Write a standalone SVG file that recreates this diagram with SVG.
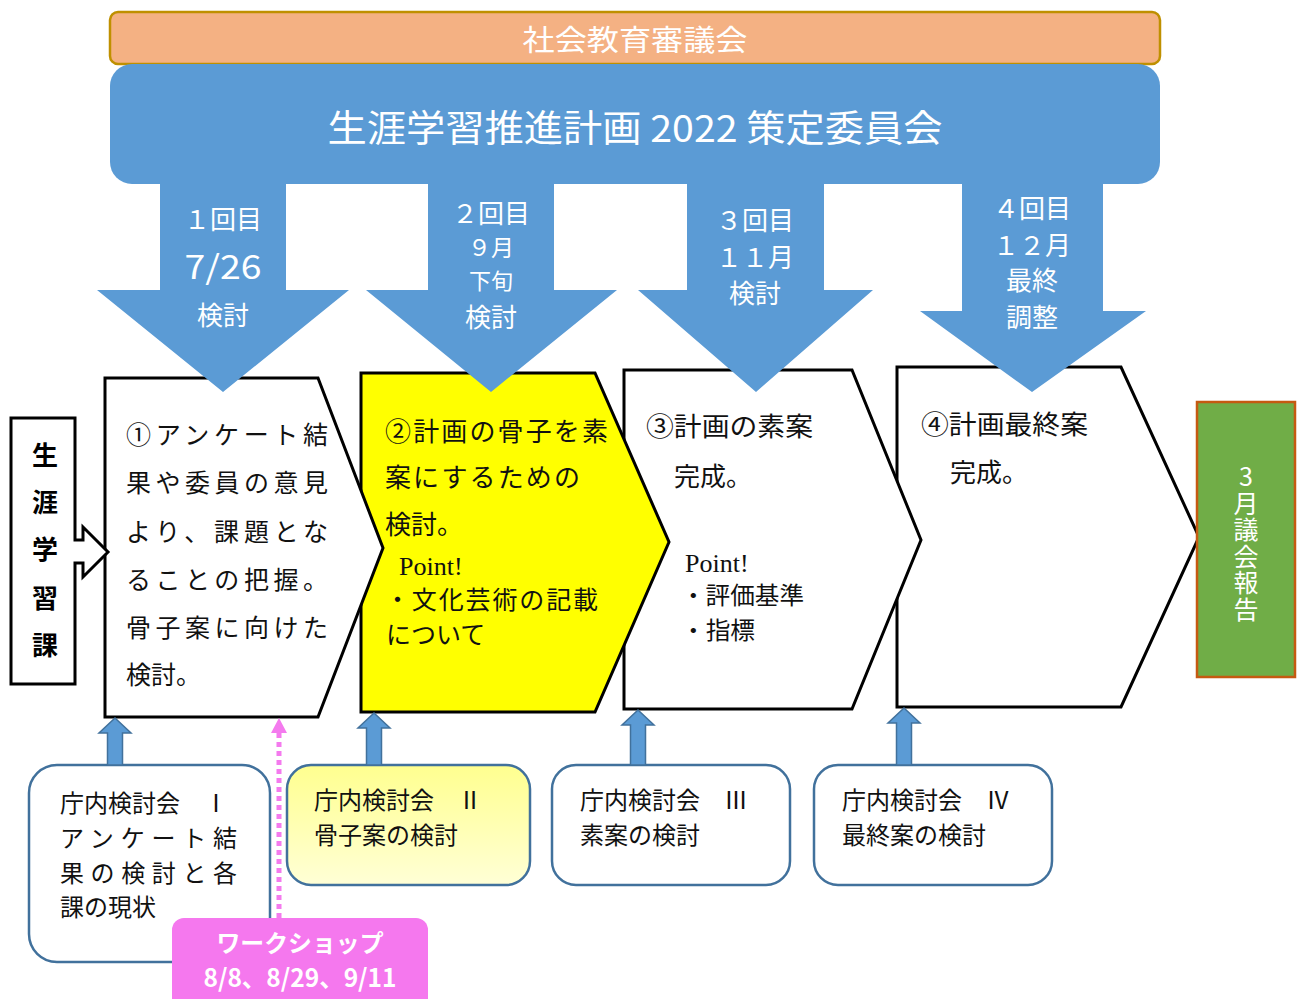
<svg xmlns="http://www.w3.org/2000/svg" width="1300" height="999" viewBox="0 0 1300 999">
<defs>
<style>
.jp{font-family:"Noto Sans CJK JP","Noto Sans",sans-serif}
.mj{font-family:"Liberation Serif","Noto Sans CJK JP",serif;fill:#111}
.pt{font-family:"Liberation Serif",serif;fill:#111;font-size:26px}
.wt{fill:#fff;font-family:"Noto Sans CJK JP","Noto Sans",sans-serif}
.pent{stroke:#000;stroke-width:3;stroke-linejoin:miter}
.sub{stroke:#41719C;stroke-width:2.5}
.sbt{font-family:"Noto Sans CJK JP","Noto Sans",sans-serif;fill:#111;font-size:24px}
.big{fill:#5B9BD5}
.up{fill:#5B9BD5;stroke:#41719C;stroke-width:1.5}
</style>
<linearGradient id="yg" x1="0" y1="0" x2="0" y2="1">
<stop offset="0" stop-color="#FFFF8F"/>
<stop offset="1" stop-color="#FFFFD6"/>
</linearGradient>
</defs>
<rect width="1300" height="999" fill="#fff"/>

<g id="shakai">
<rect x="110" y="12" width="1050" height="52" rx="8" fill="#F4B183" stroke="#BF9000" stroke-width="2.5"/>
<text class="wt" x="635" y="51" font-size="29" text-anchor="middle" textLength="225" lengthAdjust="spacingAndGlyphs">社会教育審議会</text>
</g>

<g id="iinkai">
<rect x="110" y="64" width="1050" height="120" rx="22" fill="#5B9BD5"/>
<text class="wt" x="635" y="142" font-size="37" text-anchor="middle" textLength="615" lengthAdjust="spacingAndGlyphs">生涯学習推進計画 2022 策定委員会</text>
</g>

<g id="step4">
<path class="pent" d="M897,367 L1121,367 L1199,537 L1121,707 L897,707 Z" fill="#fff"/>
<text class="mj" x="921" y="434" font-size="26" textLength="167" lengthAdjust="spacingAndGlyphs">④計画最終案</text>
<text class="mj" x="950" y="482" font-size="26">完成。</text>
</g>

<g id="step3">
<path class="pent" d="M624,370 L852,370 L921,540 L852,709 L624,709 Z" fill="#fff"/>
<text class="mj" x="646" y="436" font-size="26" textLength="167" lengthAdjust="spacingAndGlyphs">③計画の素案</text>
<text class="mj" x="674" y="486" font-size="26">完成。</text>
<text class="pt" x="685" y="572">Point!</text>
<text class="mj" x="681" y="604" font-size="24" textLength="123" lengthAdjust="spacingAndGlyphs">・評価基準</text>
<text class="mj" x="681" y="639" font-size="24" textLength="74" lengthAdjust="spacingAndGlyphs">・指標</text>
</g>

<g id="step2">
<path class="pent" d="M361,373 L595,373 L669,542 L595,712 L361,712 Z" fill="#FFFF00"/>
<text class="mj" x="385" y="441" font-size="26" textLength="223" lengthAdjust="spacing">②計画の骨子を素</text>
<text class="mj" x="385" y="487" font-size="26" textLength="195" lengthAdjust="spacing">案にするための</text>
<text class="mj" x="385" y="534" font-size="26">検討。</text>
<text class="pt" x="399" y="575">Point!</text>
<text class="mj" x="385" y="609" font-size="25" textLength="213" lengthAdjust="spacing">・文化芸術の記載</text>
<text class="mj" x="386" y="644" font-size="25">について</text>
</g>

<g id="step1">
<path class="pent" d="M105,378 L318,378 L383,548 L318,717 L105,717 Z" fill="#fff"/>
<text class="mj" x="126" y="444" font-size="25" textLength="202" lengthAdjust="spacing">①アンケート結</text>
<text class="mj" x="126" y="492" font-size="25" textLength="202" lengthAdjust="spacing">果や委員の意見</text>
<text class="mj" x="126" y="541" font-size="25" textLength="202" lengthAdjust="spacing">より、課題とな</text>
<text class="mj" x="126" y="589" font-size="25" textLength="202" lengthAdjust="spacing">ることの把握。</text>
<text class="mj" x="126" y="637" font-size="25" textLength="202" lengthAdjust="spacing">骨子案に向けた</text>
<text class="mj" x="126" y="684" font-size="25">検討。</text>
</g>

<g id="shogai">
<path d="M11,418 L75,418 L75,540 L83,540 L83,527 L108,552 L83,577 L83,563 L75,563 L75,684 L11,684 Z" fill="#fff" stroke="#000" stroke-width="3"/>
<g class="jp" font-size="26" font-weight="bold" text-anchor="middle" fill="#000">
<text x="45" y="465">生</text>
<text x="45" y="512">涯</text>
<text x="45" y="559">学</text>
<text x="45" y="608">習</text>
<text x="45" y="655">課</text>
</g>
</g>

<g id="gikai">
<rect x="1197" y="402" width="98" height="275" fill="#70AD47" stroke="#C55A11" stroke-width="2.5"/>
<text class="wt" x="1246" y="464" font-size="25" writing-mode="vertical-rl" letter-spacing="1.5" style="text-orientation:upright">3月議会報告</text>
</g>

<g id="chonai1">
<rect class="sub" x="29" y="765" width="241" height="197" rx="28" fill="#fff"/>
<text class="sbt" x="60" y="812">庁内検討会　Ⅰ</text>
<text class="sbt" x="60" y="847" textLength="177" lengthAdjust="spacing">アンケート結</text>
<text class="sbt" x="60" y="882" textLength="177" lengthAdjust="spacing">果の検討と各</text>
<text class="sbt" x="60" y="916">課の現状</text>
</g>

<g id="chonai2">
<rect class="sub" x="287" y="765" width="243" height="120" rx="24" fill="url(#yg)"/>
<text class="sbt" x="314" y="809">庁内検討会　Ⅱ</text>
<text class="sbt" x="314" y="844">骨子案の検討</text>
</g>

<g id="chonai3">
<rect class="sub" x="552" y="765" width="238" height="120" rx="24" fill="#fff"/>
<text class="sbt" x="580" y="809">庁内検討会　Ⅲ</text>
<text class="sbt" x="580" y="844">素案の検討</text>
</g>

<g id="chonai4">
<rect class="sub" x="814" y="765" width="238" height="120" rx="24" fill="#fff"/>
<text class="sbt" x="842" y="809">庁内検討会　Ⅳ</text>
<text class="sbt" x="842" y="844">最終案の検討</text>
</g>

<g id="connectors">
<path class="big" d="M160,180 L286,180 L286,290 L349,290 L223,392 L97,290 L160,290 Z"/>
<path class="big" d="M428,180 L554,180 L554,290 L617,290 L491,392 L366,290 L428,290 Z"/>
<path class="big" d="M687,180 L824,180 L824,290 L873,290 L756,392 L638,290 L687,290 Z"/>
<path class="big" d="M962,180 L1103,180 L1103,311 L1146,311 L1032,392 L920,311 L962,311 Z"/>
<g class="wt" text-anchor="middle">
<text x="223" y="229" font-size="26">１回目</text>
<text x="223" y="279" font-size="33" textLength="77" lengthAdjust="spacingAndGlyphs">7/26</text>
<text x="223" y="325" font-size="26">検討</text>
<text x="491" y="223" font-size="26">２回目</text>
<text x="491" y="256" font-size="23">９月</text>
<text x="491" y="289" font-size="22">下旬</text>
<text x="491" y="327" font-size="26">検討</text>
<text x="755" y="230" font-size="26">３回目</text>
<text x="755" y="267" font-size="26">１１月</text>
<text x="755" y="303" font-size="26">検討</text>
<text x="1032" y="218" font-size="26">４回目</text>
<text x="1032" y="255" font-size="26">１２月</text>
<text x="1032" y="290" font-size="26">最終</text>
<text x="1032" y="327" font-size="26">調整</text>
</g>
<path class="up" d="M115,718 L131,733 L122.5,733 L122.5,765 L107.5,765 L107.5,733 L99,733 Z"/>
<path class="up" d="M374,713 L390,728 L381.5,728 L381.5,765 L366.5,765 L366.5,728 L358,728 Z"/>
<path class="up" d="M638,710 L654,725 L645.5,725 L645.5,765 L630.5,765 L630.5,725 L622,725 Z"/>
<path class="up" d="M904,708 L920,723 L911.5,723 L911.5,765 L896.5,765 L896.5,723 L888,723 Z"/>
<line x1="279" y1="918" x2="279" y2="733" stroke="#F47AEE" stroke-width="5" stroke-dasharray="5 4"/>
<path d="M279,718 L287,733 L271,733 Z" fill="#F47AEE"/>
</g>

<g id="workshop">
<rect x="172" y="918" width="256" height="100" rx="12" fill="#F578EE"/>
<text class="wt" x="300" y="952" font-size="24" font-weight="bold" text-anchor="middle" textLength="167" lengthAdjust="spacingAndGlyphs">ワークショップ</text>
<text class="wt" x="300" y="987" font-size="25" font-weight="bold" text-anchor="middle" textLength="193" lengthAdjust="spacingAndGlyphs">8/8、8/29、9/11</text>
</g>
</svg>
